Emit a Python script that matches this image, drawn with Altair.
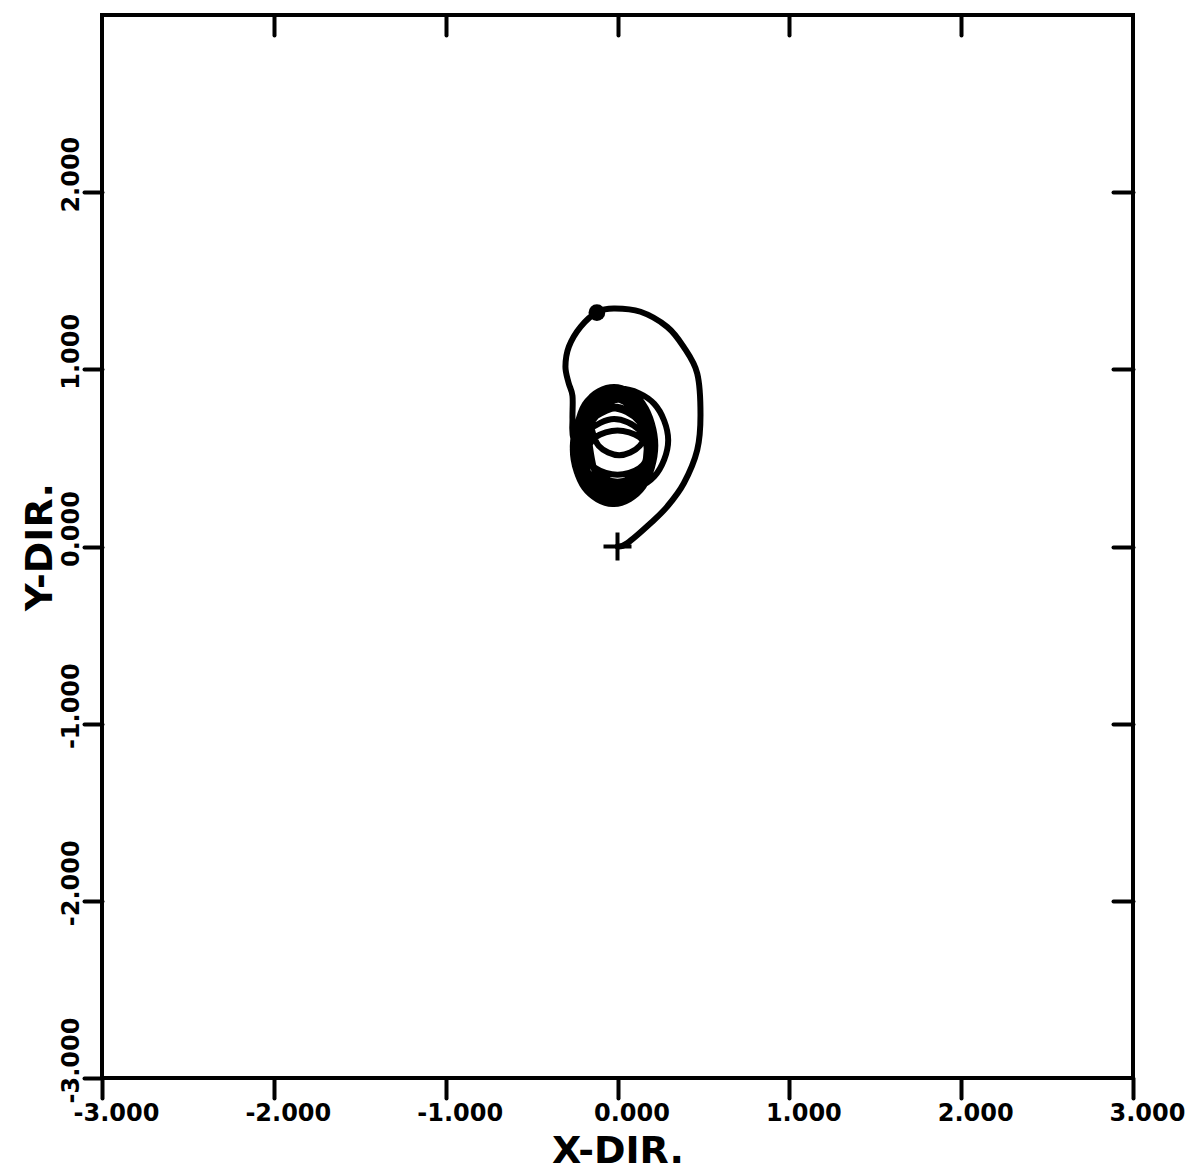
import altair as alt
import pandas as pd

# Trajectory: outer arc from the start (+) then the dense loops
path_x = [0.0, 0.056, 0.192, 0.289, 0.386, 0.464, 0.483, 0.464, 0.384, 0.289, 0.134, -0.022, -0.118, -0.215, -0.283, -0.303, -0.285, -0.262, -0.262,
          -0.255, -0.174, 0.02, 0.214, 0.295, 0.214, 0.02, -0.174,
          -0.26, -0.19, -0.02, 0.15, 0.22, 0.15, -0.02, -0.19,
          -0.25, -0.188, -0.04, 0.108, 0.17, 0.108, -0.04, -0.188,
          -0.26, -0.193, -0.03, 0.133, 0.20, 0.133, -0.03, -0.193,
          -0.20, -0.144, -0.01, 0.124, 0.18, 0.124, -0.01, -0.144,
          -0.25, -0.183, -0.02, 0.143, 0.21, 0.143, -0.02, -0.183,
          -0.22, -0.161, -0.02, 0.121, 0.18, 0.121, -0.02, -0.161,
          -0.24, -0.176, -0.02, 0.136, 0.20, 0.136, -0.02, -0.176,
          -0.16, -0.11, 0.01, 0.13, 0.18, 0.13, 0.01, -0.11,
          -0.25, -0.186, -0.03, 0.126, 0.19, 0.126, -0.03, -0.186,
          -0.19, -0.134, 0.0, 0.134, 0.19, 0.134, 0.0, -0.134,
          -0.23, -0.168, -0.02, 0.128, 0.19, 0.128, -0.02, -0.168,
          -0.22, -0.158, -0.01, 0.138, 0.20, 0.138, -0.01, -0.158,
          -0.16, -0.11, 0.01, 0.13, 0.18, 0.13, 0.01, -0.11,
          -0.18, -0.127, 0.0, 0.127, 0.18, 0.127, 0.0, -0.127, -0.18]
path_y = [0.0, 0.018, 0.131, 0.225, 0.357, 0.545, 0.742, 0.977, 1.128, 1.240, 1.325, 1.344, 1.323, 1.240, 1.128, 1.015, 0.925, 0.85, 0.72,
          0.60, 0.395, 0.31, 0.395, 0.60, 0.805, 0.89, 0.805,
          0.57, 0.337, 0.24, 0.337, 0.57, 0.803, 0.90, 0.803,
          0.55, 0.345, 0.26, 0.345, 0.55, 0.755, 0.84, 0.755,
          0.55, 0.331, 0.24, 0.331, 0.55, 0.769, 0.86, 0.769,
          0.57, 0.358, 0.27, 0.358, 0.57, 0.782, 0.87, 0.782,
          0.60, 0.402, 0.32, 0.402, 0.60, 0.798, 0.88, 0.798,
          0.54, 0.363, 0.29, 0.363, 0.54, 0.717, 0.79, 0.717,
          0.60, 0.388, 0.30, 0.388, 0.60, 0.812, 0.90, 0.812,
          0.56, 0.369, 0.29, 0.369, 0.56, 0.751, 0.83, 0.751,
          0.52, 0.336, 0.26, 0.336, 0.52, 0.704, 0.78, 0.704,
          0.60, 0.434, 0.365, 0.434, 0.60, 0.766, 0.835, 0.766,
          0.50, 0.344, 0.28, 0.344, 0.50, 0.656, 0.72, 0.656,
          0.56, 0.404, 0.34, 0.404, 0.56, 0.716, 0.78, 0.716,
          0.70, 0.569, 0.515, 0.569, 0.70, 0.831, 0.885, 0.831,
          0.53, 0.442, 0.405, 0.442, 0.53, 0.618, 0.655, 0.618, 0.53]

start_x = [0.0]
start_y = [0.0]
dot_x = [-0.12]
dot_y = [1.32]

x_ticks = [-3, -2, -1, 0, 1, 2, 3]
y_ticks = [-3, -2, -1, 0, 1, 2]
inner_ticks = [-2, -1, 0, 1, 2]
domain = [-3, 3]

FONT = "DejaVu Sans"
label_expr = "replace(format(datum.value, '.3f'), '\u2212', '-')"

df = pd.DataFrame({"x": path_x, "y": path_y, "i": list(range(len(path_x)))})
xs = alt.Scale(domain=domain, nice=False, zero=False)
ys = alt.Scale(domain=domain, nice=False, zero=False)

common = dict(grid=False, domain=False, tickColor="black", tickWidth=4, tickCap="round",
              labelFont=FONT, labelFontSize=24, labelFontWeight="bold", labelColor="black",
              labelFlush=False, labelOverlap=False, titleFont=FONT, titleFontSize=38,
              titleFontWeight="bold", titleColor="black")

line = alt.Chart(df).mark_line(interpolate="cardinal", color="black", strokeWidth=6,
                               strokeCap="round", strokeJoin="round").encode(
    x=alt.X("x:Q", scale=xs, axis=alt.Axis(orient="bottom", values=x_ticks, title="X-DIR.",
                                           labelExpr=label_expr, tickSize=20, labelPadding=3,
                                           labelOffset=14, titlePadding=7, **common)),
    y=alt.Y("y:Q", scale=ys, axis=alt.Axis(orient="left", values=y_ticks, title="Y-DIR.",
                                           labelExpr=label_expr, tickSize=18, labelAngle=270,
                                           labelAlign="center", labelBaseline="alphabetic",
                                           labelPadding=6, labelOffset=-18, titlePadding=0, **common)),
    order="i:Q",
)

inner = dict(grid=False, domain=False, labels=False, title=None, tickColor="black",
             tickWidth=4, tickSize=20, offset=-20, values=inner_ticks, tickCap="round")

dot = alt.Chart(pd.DataFrame({"x": dot_x, "y": dot_y})).mark_circle(size=280, color="black", opacity=1).encode(
    x=alt.X("x:Q", scale=xs, axis=alt.Axis(orient="top", **inner)),
    y=alt.Y("y:Q", scale=ys, axis=alt.Axis(orient="right", **inner)),
)

start = alt.Chart(pd.DataFrame({"x": start_x, "y": start_y})).mark_point(
    shape="M-1,0H1M0,-1V1", size=784, filled=False, stroke="black", strokeWidth=4, opacity=1).encode(
    x=alt.X("x:Q", scale=xs, axis=None),
    y=alt.Y("y:Q", scale=ys, axis=None),
)

chart = alt.layer(line, dot, start).resolve_axis(x="independent", y="independent").properties(
    width=1031, height=1063,
    padding={"left": 94, "top": 7, "right": 60, "bottom": 98},
    autosize=alt.AutoSizeParams(type="none"),
    background="white",
).configure_view(stroke="black", strokeWidth=4, fill="white")

chart.save("out.html", embed_options={"renderer": "svg", "actions": False})
